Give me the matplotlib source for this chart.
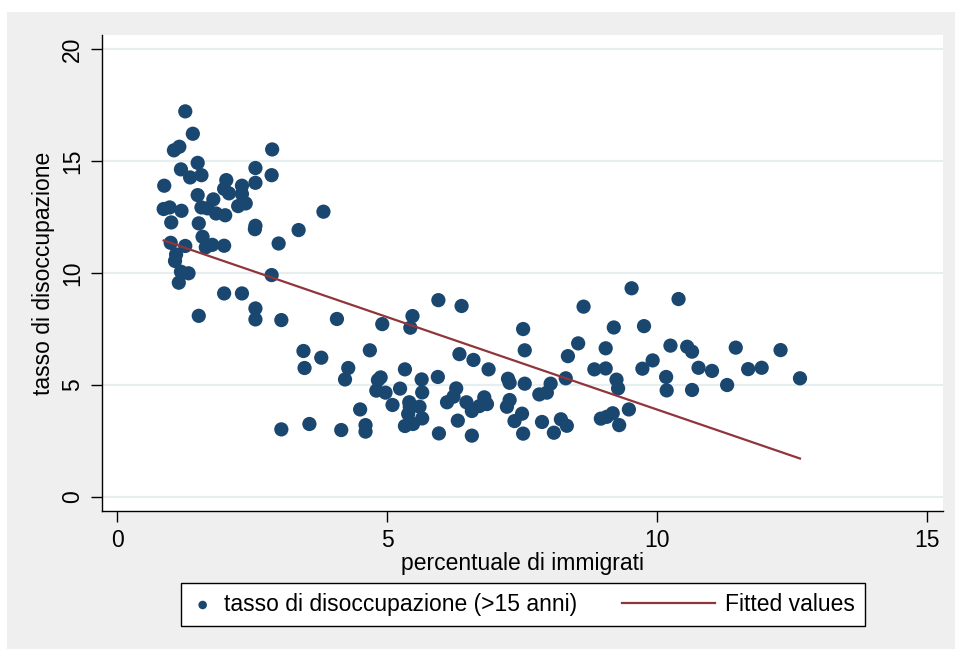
import numpy as np
import matplotlib.pyplot as plt
from matplotlib.patches import Rectangle
from matplotlib.legend_handler import HandlerLine2D

plt.rcParams['font.family'] = ['Liberation Sans', 'DejaVu Sans']

# percentuale di immigrati
immigrati = [
    1.26, 1.40, 1.05, 1.15, 2.87, 1.49, 1.18, 1.35, 1.56, 2.56, 2.86, 2.56, 0.87, 2.02,
    1.98, 2.07, 2.31, 2.31, 1.49, 1.78, 2.24, 2.38, 1.56, 1.67, 1.83, 2.00, 0.86, 0.97,
    1.19, 3.82, 1.00, 1.51, 2.56, 2.55, 3.36, 1.58, 2.99, 0.99, 1.26, 1.64, 1.76, 1.98,
    1.09, 1.07, 1.18, 1.32, 1.14, 2.86, 1.98, 2.31, 2.56, 1.51, 2.56, 3.04, 4.07,
    4.91, 5.47, 5.43, 5.95, 6.38, 3.45, 3.78, 3.47, 4.68, 4.28, 4.22, 6.34, 6.60, 6.88,
    5.33, 5.64, 5.94, 4.83, 4.88, 4.80, 4.97, 5.24, 5.65, 6.28, 6.23, 6.11, 6.47, 6.80,
    6.85, 6.71, 6.57, 5.10, 5.41, 5.42, 5.60, 5.39, 4.50, 5.65, 6.31, 5.33, 5.48, 4.60,
    4.60, 3.04, 3.56, 4.15, 5.96, 6.57,
    9.53, 10.40, 8.64, 7.52, 9.20, 9.76, 7.55, 8.54, 9.05, 10.25, 10.56, 10.65, 9.92,
    8.35, 8.84, 9.05, 9.73, 7.24, 7.27, 7.55, 8.31, 8.03, 7.82, 7.96, 9.25, 9.28, 10.17,
    10.18, 10.65, 7.27, 7.22, 7.50, 7.36, 7.87, 8.22, 8.33, 7.52, 8.09, 9.48, 8.96, 9.07,
    9.18, 9.30, 11.46, 12.29, 10.77, 11.02, 11.69, 11.94, 12.65, 11.30,
]
# tasso di disoccupazione (>15 anni)
disoccupazione = [
    17.22, 16.22, 15.48, 15.64, 15.52, 14.92, 14.63, 14.27, 14.37, 14.69, 14.37, 14.03, 13.90, 14.15,
    13.76, 13.56, 13.90, 13.53, 13.48, 13.29, 12.99, 13.11, 12.93, 12.89, 12.66, 12.58, 12.86, 12.93,
    12.78, 12.74, 12.26, 12.22, 12.11, 11.96, 11.92, 11.62, 11.32, 11.35, 11.21, 11.15, 11.26, 11.22,
    10.83, 10.54, 10.06, 9.99, 9.57, 9.91, 9.09, 9.09, 8.42, 8.09, 7.93, 7.90, 7.95,
    7.72, 8.08, 7.56, 8.79, 8.53, 6.52, 6.22, 5.76, 6.55, 5.76, 5.25, 6.38, 6.12, 5.70,
    5.70, 5.25, 5.36, 5.22, 5.34, 4.75, 4.66, 4.84, 4.67, 4.85, 4.48, 4.23, 4.23, 4.45,
    4.15, 4.06, 3.84, 4.11, 4.23, 4.03, 4.03, 3.71, 3.91, 3.51, 3.41, 3.17, 3.26, 3.21,
    2.92, 3.02, 3.26, 2.99, 2.84, 2.74,
    9.32, 8.84, 8.50, 7.50, 7.57, 7.63, 6.55, 6.86, 6.64, 6.76, 6.71, 6.49, 6.10,
    6.29, 5.70, 5.74, 5.73, 5.28, 5.10, 5.06, 5.30, 5.06, 4.58, 4.66, 5.24, 4.85, 5.36,
    4.76, 4.78, 4.33, 4.03, 3.72, 3.39, 3.35, 3.47, 3.18, 2.83, 2.87, 3.91, 3.50, 3.58,
    3.74, 3.21, 6.67, 6.56, 5.77, 5.63, 5.71, 5.77, 5.30, 5.00,
]
x_ticks = [0, 5, 10, 15]
y_ticks = [0, 5, 10, 15, 20]

x = np.array(immigrati)
y = np.array(disoccupazione)
b, a = np.polyfit(x, y, 1)
xf = np.array([x.min(), x.max()])
yf = a + b * xf

FS = 16.5


class LongLine(HandlerLine2D):
    # draw the fitted-values line longer than the marker handle
    def create_artists(self, legend, orig_handle, xdescent, ydescent, width, height, fontsize, trans):
        ext = 3.05 * fontsize
        return super().create_artists(legend, orig_handle, xdescent + ext, ydescent,
                                      width + ext, height, fontsize, trans)


W, H = 955, 649
fig = plt.figure(figsize=(9.55, 6.49), dpi=100, facecolor='white')
fig.patches.append(Rectangle((7 / W, 0), 1, 1 - 12 / H, transform=fig.transFigure,
                             facecolor='#efefef', edgecolor='none', zorder=-10))

ax = fig.add_axes([102 / W, 1 - 511 / H, (943 - 102) / W, (511 - 35) / H])
ax.set_facecolor('white')
for s in ['top', 'right']:
    ax.spines[s].set_visible(False)
for s in ['left', 'bottom']:
    ax.spines[s].set_color('black')
    ax.spines[s].set_linewidth(1.0)

ax.set_xlim(-0.283, 15.30)
ax.set_ylim(-0.625, 20.63)
ax.set_xticks(x_ticks)
ax.set_yticks(y_ticks)
ax.tick_params(direction='out', length=8, width=1, color='black', labelsize=FS, pad=5)
for lab in ax.get_yticklabels():
    lab.set_rotation(90)
    lab.set_va('center')
ax.yaxis.grid(True, color='#e6eef0', linewidth=1.6)
ax.set_axisbelow(True)

pts = ax.scatter(x, y, s=105, color='#1a476f', edgecolors='none', zorder=3,
                 label='tasso di disoccupazione (>15 anni)')
fit, = ax.plot(xf, yf, color='#90353b', linewidth=1.6, zorder=4, label='Fitted values')

ax.set_xlabel('percentuale di immigrati', fontsize=FS, labelpad=0)
ax.set_ylabel('tasso di disoccupazione', fontsize=FS, labelpad=4)

leg = fig.legend(handles=[pts, fit], loc='center', bbox_to_anchor=(523 / W, 1 - 604.5 / H),
                 ncol=2, fontsize=FS, frameon=True, fancybox=False, edgecolor='black',
                 facecolor='white', framealpha=1, handlelength=1.0, handletextpad=0.45,
                 columnspacing=4.98, borderpad=0.45, markerscale=0.6,
                 handler_map={fit: LongLine()})
leg.get_frame().set_linewidth(1.0)

fig.savefig('out.png', dpi=100, facecolor=fig.get_facecolor())
